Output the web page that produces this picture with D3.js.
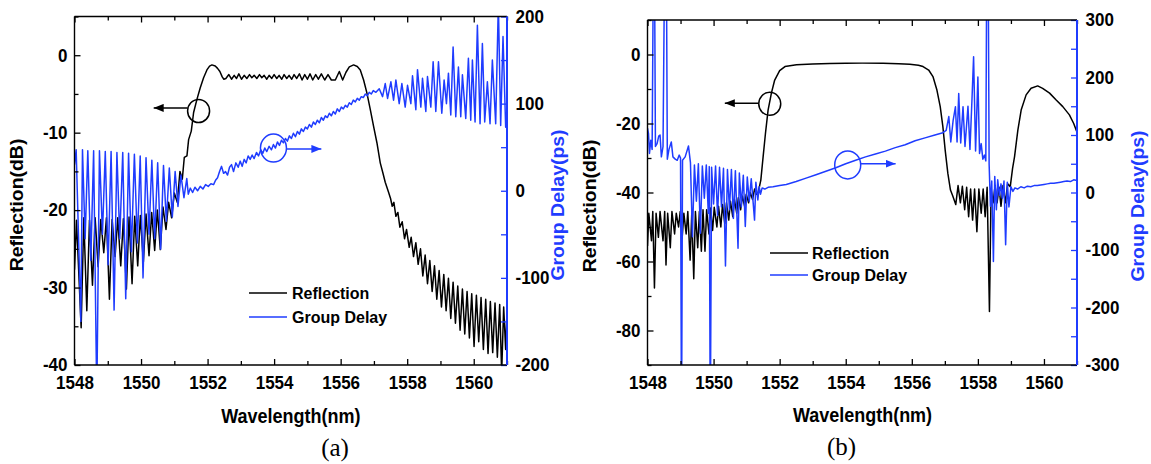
<!DOCTYPE html>
<html><head><meta charset="utf-8">
<script src="https://cdn.jsdelivr.net/npm/d3@7"></script>
<style>
body{margin:0;background:#fff}
svg text{font-family:"Liberation Sans",Arial,sans-serif;font-weight:bold}
</style></head><body>
<svg id="c" width="1151" height="464"></svg>
<script>
// ---------------- data ----------------
const wavelengthTicks = [1548,1550,1552,1554,1556,1558,1560];
const wavelengthMinor = [1549,1551,1553,1555,1557,1559,1561];
const reflTicksA = [0,-10,-20,-30,-40];
const reflMinorA = [5,-5,-15,-25,-35];
const delayTicksA = [200,100,0,-100,-200];
const delayMinorA = [150,50,-50,-150];
const reflTicksB = [0,-20,-40,-60,-80];
const reflMinorB = [10,-10,-30,-50,-70,-90];
const delayTicksB = [300,200,100,0,-100,-200,-300];
const delayMinorB = [250,150,50,-50,-150,-250];
const seriesNames = ["Reflection","Group Delay"];
const panelLabels = ["(a)","(b)"];

// panel (a) reflection [nm, dB]
const reflectionA = [
[1548.00,-27.7],[1548.06,-21.3],[1548.20,-35.2],[1548.28,-21.0],[1548.37,-33.0],[1548.45,-21.3],[1548.54,-29.7],
[1548.62,-21.0],[1548.71,-27.3],[1548.79,-21.2],[1548.88,-25.5],[1548.96,-21.0],[1549.05,-31.5],[1549.13,-21.2],
[1549.22,-26.0],[1549.30,-21.0],[1549.39,-27.2],[1549.47,-21.1],[1549.56,-30.2],[1549.64,-20.9],[1549.73,-29.5],
[1549.81,-20.8],[1549.90,-27.2],[1549.98,-20.7],[1550.07,-26.7],[1550.15,-20.5],[1550.24,-25.9],[1550.32,-20.3],
[1550.41,-25.2],[1550.49,-20.0],[1550.58,-25.1],[1550.66,-19.6],[1550.75,-22.5],[1550.83,-19.0],[1550.92,-21.0],
[1551.00,-17.8],[1551.09,-19.0],[1551.17,-15.0],[1551.24,-16.0],[1551.30,-13.2],[1551.38,-13.0],[1551.43,-10.9],
[1551.51,-9.8],[1551.58,-7.4],[1551.68,-5.7],[1551.78,-4.2],[1551.88,-2.9],[1551.98,-1.9],[1552.06,-1.4],
[1552.13,-1.25],[1552.23,-1.4],[1552.30,-1.7],[1552.37,-2.1],[1552.44,-2.8],[1552.49,-3.1],[1552.55,-3.0],
[1552.64,-2.5],[1552.72,-3.1],[1552.80,-2.6],[1552.87,-3.0],[1552.94,-2.4],[1553.02,-3.1],[1553.10,-2.6],
[1553.18,-3.0],[1553.26,-2.5],[1553.33,-2.9],[1553.40,-2.6],[1553.48,-3.0],[1553.56,-2.5],[1553.63,-2.9],
[1553.70,-2.6],[1553.78,-3.1],[1553.85,-2.6],[1553.93,-3.0],[1554.00,-2.5],[1554.08,-3.0],[1554.15,-2.6],
[1554.23,-3.1],[1554.30,-2.5],[1554.38,-3.0],[1554.45,-2.6],[1554.53,-3.1],[1554.60,-2.5],[1554.68,-3.0],
[1554.76,-2.4],[1554.84,-3.2],[1554.92,-2.5],[1555.00,-3.1],[1555.08,-2.4],[1555.16,-3.2],[1555.25,-2.5],
[1555.33,-3.1],[1555.42,-2.4],[1555.52,-3.2],[1555.62,-2.5],[1555.72,-3.2],[1555.84,-3.2],[1555.96,-2.1],
[1556.06,-3.2],[1556.16,-2.2],[1556.26,-1.5],[1556.39,-1.25],[1556.50,-1.45],[1556.59,-1.9],[1556.69,-3.2],
[1556.79,-4.9],[1556.89,-7.0],[1556.99,-9.2],[1557.09,-11.3],[1557.19,-13.9],[1557.27,-15.2],[1557.34,-16.4],
[1557.44,-17.7],[1557.50,-18.5],[1557.55,-19.5],[1557.60,-19.0],[1557.66,-20.8],[1557.72,-20.3],[1557.78,-22.2],
[1557.85,-21.5],[1557.92,-23.7],[1557.98,-22.5],[1558.06,-24.8],[1558.12,-23.5],[1558.19,-26.0],[1558.26,-24.2],
[1558.33,-27.0],[1558.40,-25.0],[1558.47,-28.5],[1558.54,-25.8],[1558.61,-29.5],[1558.68,-26.5],[1558.75,-30.5],
[1558.82,-27.2],[1558.89,-31.5],[1558.96,-27.8],[1559.03,-32.5],[1559.10,-28.3],[1559.17,-33.0],[1559.24,-28.8],
[1559.31,-34.0],[1559.38,-29.3],[1559.45,-34.6],[1559.52,-29.8],[1559.59,-35.5],[1559.66,-30.2],[1559.73,-36.0],
[1559.80,-30.5],[1559.87,-36.5],[1559.94,-30.8],[1560.01,-37.6],[1560.08,-31.0],[1560.15,-37.0],[1560.22,-31.3],
[1560.29,-38.0],[1560.36,-31.5],[1560.43,-38.5],[1560.50,-31.8],[1560.57,-38.4],[1560.64,-32.0],[1560.71,-39.0],
[1560.78,-32.2],[1560.84,-41.0],[1560.90,-32.5],[1560.96,-38.0],[1561.00,-33.0]
];

// panel (a) group delay [nm, ps]
const delayA = [
[1548.00,30],[1548.05,47],[1548.19,-150],[1548.24,47],[1548.32,-55],[1548.40,46],[1548.49,-80],[1548.575,46],
[1548.67,-240],[1548.75,46],[1548.84,-50],[1548.925,45],[1549.01,-85],[1549.10,45],[1549.19,-137],[1549.275,44],
[1549.36,-55],[1549.45,44],[1549.54,-124],[1549.625,43],[1549.71,-70],[1549.80,42],[1549.89,-60],[1549.975,40],
[1550.06,-100],[1550.15,38],[1550.24,-50],[1550.325,35],[1550.41,-55],[1550.50,32],[1550.59,-67],[1550.675,29],
[1550.76,-35],[1550.85,26],[1550.94,-30],[1551.025,22],[1551.11,-18],[1551.20,18],[1551.29,-8],[1551.375,14],
[1551.42,-4],[1551.48,3],[1551.55,-2],[1551.62,4],[1551.70,0],[1551.78,5],[1551.86,2],[1551.94,7],[1552.02,5],
[1552.10,8],[1552.18,7],[1552.24,12],[1552.30,15],[1552.36,22],[1552.42,28],[1552.48,20],[1552.54,22],[1552.60,18],
[1552.66,27],[1552.72,30],[1552.78,22],[1552.85,32],[1552.92,27],[1552.98,34],[1553.04,28],[1553.10,36],[1553.16,32],
[1553.22,40],[1553.28,36],[1553.34,41],[1553.40,37],[1553.47,44],[1553.53,40],[1553.60,47],[1553.66,43],[1553.72,49],
[1553.78,45],[1553.85,51],[1553.92,47],[1553.98,53],[1554.04,49],[1554.10,56],[1554.16,52],[1554.22,58],[1554.28,55],
[1554.34,60],[1554.40,57],[1554.46,63],[1554.52,60],[1554.58,66],[1554.64,62],[1554.70,68],[1554.76,65],[1554.82,71],
[1554.88,68],[1554.94,73],[1555.00,71],[1555.06,76],[1555.12,73],[1555.18,79],[1555.24,76],[1555.30,81],[1555.36,78],
[1555.42,84],[1555.48,81],[1555.54,86],[1555.60,84],[1555.66,89],[1555.72,86],[1555.78,91],[1555.84,88],[1555.90,94],
[1555.96,91],[1556.02,96],[1556.08,94],[1556.14,98],[1556.20,96],[1556.26,101],[1556.32,99],[1556.38,104],[1556.44,102],
[1556.50,106],[1556.56,104],[1556.62,108],[1556.68,107],[1556.74,111],[1556.80,109],[1556.86,113],[1556.92,111],
[1556.98,115],[1557.06,113],[1557.16,117],[1557.26,108],[1557.34,123],[1557.41,106],[1557.51,125],[1557.59,104],
[1557.66,127],[1557.76,100],[1557.84,123],[1557.94,96],[1558.01,121],[1558.11,100],[1558.16,132],[1558.26,93],
[1558.31,139],[1558.41,96],[1558.46,129],[1558.56,91],[1558.61,131],[1558.71,96],[1558.78,148],[1558.86,91],
[1558.94,148],[1559.04,89],[1559.11,127],[1559.18,100],[1559.24,135],[1559.31,87],[1559.38,165],[1559.46,85],
[1559.54,142],[1559.61,85],[1559.66,133],[1559.76,83],[1559.84,152],[1559.91,81],[1559.96,150],[1560.04,79],
[1560.11,190],[1560.19,77],[1560.26,169],[1560.33,79],[1560.41,125],[1560.49,77],[1560.56,150],[1560.66,77],
[1560.74,215],[1560.81,75],[1560.88,177],[1560.96,73],[1561.00,90]
];

// panel (b) reflection [nm, dB]
const reflectionB = [
[1548.00,-55.5],[1548.04,-46],[1548.12,-54],[1548.16,-45.5],[1548.21,-67.7],[1548.26,-46],[1548.33,-53],
[1548.38,-45.5],[1548.47,-54],[1548.52,-45.5],[1548.56,-61],[1548.61,-46],[1548.69,-56],[1548.74,-45.5],
[1548.82,-52],[1548.87,-46],[1548.94,-50],[1548.99,-45.5],[1549.05,-53],[1549.10,-46],[1549.17,-52],
[1549.22,-45.5],[1549.29,-59.6],[1549.34,-46],[1549.40,-65],[1549.45,-45.5],[1549.52,-56],[1549.57,-45.5],
[1549.63,-57],[1549.68,-45],[1549.74,-57],[1549.79,-45],[1549.86,-52],[1549.91,-44.5],[1549.97,-51],
[1550.02,-44.3],[1550.10,-50],[1550.15,-44],[1550.22,-50],[1550.27,-43.5],[1550.34,-49],[1550.39,-43],
[1550.46,-48],[1550.51,-42.5],[1550.58,-47],[1550.63,-42],[1550.70,-46],[1550.75,-41.5],[1550.82,-45],
[1550.87,-41],[1550.94,-44],[1550.99,-40.5],[1551.06,-43],[1551.11,-40],[1551.18,-42],[1551.24,-39],
[1551.30,-40.5],[1551.35,-40],[1551.43,-36.4],[1551.50,-29.6],[1551.57,-22.9],[1551.65,-16.1],[1551.75,-11.2],
[1551.85,-7.4],[1552.00,-4.7],[1552.16,-3.5],[1552.51,-3.0],[1553.00,-2.75],[1553.52,-2.6],[1554.00,-2.55],
[1554.50,-2.5],[1555.13,-2.55],[1555.60,-2.65],[1555.94,-2.85],[1556.20,-3.1],[1556.34,-3.5],[1556.51,-4.5],
[1556.64,-6.4],[1556.76,-10.3],[1556.86,-15.1],[1556.94,-20.9],[1557.01,-27.7],[1557.09,-34.4],[1557.17,-39.3],
[1557.24,-41],[1557.33,-43.5],[1557.40,-38],[1557.47,-43],[1557.53,-38.2],[1557.60,-45],[1557.66,-38.5],
[1557.72,-47],[1557.78,-39],[1557.84,-48],[1557.90,-39],[1557.97,-51.4],[1558.03,-39],[1558.10,-46],
[1558.16,-39],[1558.22,-47],[1558.28,-38.5],[1558.35,-74.5],[1558.40,-39],[1558.46,-43],[1558.52,-38],
[1558.58,-43],[1558.64,-38.5],[1558.70,-44],[1558.76,-38],[1558.83,-43],[1558.90,-37.5],[1558.98,-38.3],
[1559.05,-33],[1559.11,-29.6],[1559.21,-21.9],[1559.31,-16.1],[1559.46,-11.7],[1559.61,-9.8],[1559.81,-9.1],
[1559.96,-9.8],[1560.17,-11.2],[1560.37,-13.2],[1560.57,-15.1],[1560.77,-17.5],[1560.90,-20],[1561.00,-22.5]
];

// panel (b) group delay [nm, ps]
const delayB = [
[1548.00,112],[1548.03,103],[1548.06,68],[1548.10,91],[1548.14,75],[1548.18,420],[1548.21,420],[1548.24,80],
[1548.29,85],[1548.34,98],[1548.38,100],[1548.42,62],[1548.47,80],[1548.52,420],[1548.57,420],[1548.60,58],
[1548.65,75],[1548.72,88],[1548.77,62],[1548.84,58],[1548.90,56],[1548.96,65],[1549.00,60],[1549.03,-420],
[1549.06,56],[1549.14,62],[1549.24,81],[1549.30,52],[1549.36,-77],[1549.42,48],[1549.48,-15],[1549.54,50],
[1549.60,-71],[1549.66,46],[1549.72,-10],[1549.78,48],[1549.84,-36],[1549.87,45],[1549.90,-420],[1549.94,44],
[1550.00,-20],[1550.06,46],[1550.12,-40],[1550.18,44],[1550.24,-25],[1550.30,42],[1550.36,-128],[1550.42,40],
[1550.48,-30],[1550.54,40],[1550.60,-45],[1550.66,38],[1550.74,-97],[1550.78,34],[1550.84,-25],[1550.90,30],
[1550.96,-59],[1551.02,27],[1551.08,-15],[1551.14,24],[1551.24,-48],[1551.28,18],[1551.34,-13],[1551.38,10],
[1551.42,-3],[1551.47,8],[1551.55,6],[1551.65,9],[1551.80,10],[1552.00,12],[1552.20,14],[1552.50,19],[1552.80,25],
[1553.10,31],[1553.40,37],[1553.70,43],[1554.00,50],[1554.30,56],[1554.60,62],[1554.90,67],[1555.20,72],
[1555.50,78],[1555.80,83],[1556.10,90],[1556.40,95],[1556.70,100],[1556.94,104],[1557.04,108],[1557.12,132],
[1557.18,88],[1557.25,125],[1557.32,149],[1557.37,88],[1557.42,172],[1557.48,86],[1557.55,149],[1557.61,80],
[1557.70,150],[1557.76,75],[1557.82,160],[1557.87,236],[1557.93,72],[1558.00,201],[1558.05,68],[1558.10,85],
[1558.15,58],[1558.20,65],[1558.24,55],[1558.27,420],[1558.31,420],[1558.34,50],[1558.38,-24],[1558.42,20],
[1558.47,-120],[1558.51,28],[1558.56,-30],[1558.60,22],[1558.65,-5],[1558.70,15],[1558.74,-10],[1558.79,20],
[1558.84,-91],[1558.89,18],[1558.94,-25],[1559.00,10],[1559.06,2],[1559.12,8],[1559.20,6],[1559.30,10],
[1559.40,8],[1559.50,11],[1559.60,10],[1559.70,12],[1559.80,12],[1559.90,13],[1560.00,14],[1560.10,15],
[1560.20,16],[1560.30,16],[1560.40,17],[1560.50,18],[1560.60,19],[1560.70,20],[1560.80,19],[1560.90,22],[1561.00,21]
];

// ---------------- drawing ----------------
const BLUE = "#1f3cff";
const svg = d3.select("#c");

const panels = [
 {left:74.5, right:507, top:16.5, bottom:365, reflDomain:[-40,5], delayDomain:[-200,200],
  reflTicks:reflTicksA, reflMinor:reflMinorA, delayTicks:delayTicksA, delayMinor:delayMinorA,
  refl:reflectionA, delay:delayA, label:panelLabels[0],
  leftTitleX:17, rightTitleX:557.5, titleY:205, xTitleX:290.8, xTitleY:416, labelX:335, labelY:447,
  legend:{x1:249,x2:287,tx:292,y1:293,y2:317},
  blackMark:{cx:1551.73, cy:-7.2, ay:-6.8, tip:1550.38}, blueMark:{cx:1553.98, cy:49, ay:48, tip:1555.42}},
 {left:647.5, right:1077, top:20, bottom:365, reflDomain:[-90,10], delayDomain:[-300,300],
  reflTicks:reflTicksB, reflMinor:reflMinorB, delayTicks:delayTicksB, delayMinor:delayMinorB,
  refl:reflectionB, delay:delayB, label:panelLabels[1],
  leftTitleX:590, rightTitleX:1137.5, titleY:206, xTitleX:862.5, xTitleY:415, labelX:841.5, labelY:446,
  legend:{x1:770,x2:808,tx:812,y1:253,y2:275},
  blackMark:{cx:1551.70, cy:-14.3, ay:-14.1, tip:1550.34}, blueMark:{cx:1554.06, cy:48, ay:50, tip:1555.51}}
];

const defs = svg.append("defs");
function marker(id, color){
  defs.append("marker").attr("id",id).attr("viewBox","0 0 10 8").attr("refX",10).attr("refY",4)
    .attr("markerWidth",10).attr("markerHeight",8).attr("markerUnits","userSpaceOnUse").attr("orient","auto")
    .append("path").attr("d","M0,0 L10,4 L0,8 Z").attr("fill",color);
}
marker("arrK","#000"); marker("arrB",BLUE);

const fmt = d => String(d);
function styleAxis(g, color, fs){
  g.attr("font-family",null).attr("font-size",null);
  g.select(".domain").remove();
  g.selectAll(".tick line").attr("stroke",color).attr("stroke-width",1.3);
  g.selectAll(".tick text").attr("fill","#000").style("font-size",fs+"px").attr("transform","scale(1,1.08)");
}

panels.forEach((p,i) => {
  const g = svg.append("g");
  const x = d3.scaleLinear().domain([1548,1561]).range([p.left,p.right]);
  const yL = d3.scaleLinear().domain(p.reflDomain).range([p.bottom,p.top]);
  const yR = d3.scaleLinear().domain(p.delayDomain).range([p.bottom,p.top]);
  const clipId = "clip"+i;
  defs.append("clipPath").attr("id",clipId).append("rect")
    .attr("x",p.left).attr("y",p.top).attr("width",p.right-p.left).attr("height",p.bottom-p.top);

  // data lines
  const lineL = d3.line().x(d=>x(d[0])).y(d=>yL(d[1]));
  const lineR = d3.line().x(d=>x(d[0])).y(d=>yR(d[1]));
  const plot = g.append("g").attr("clip-path",`url(#${clipId})`);
  plot.append("path").datum(p.refl).attr("d",lineL).attr("fill","none").attr("stroke","#000")
    .attr("stroke-width",1.5).attr("stroke-linejoin","round");
  plot.append("path").datum(p.delay).attr("d",lineR).attr("fill","none").attr("stroke",BLUE)
    .attr("stroke-width",1.5).attr("stroke-linejoin","round");

  // axes
  const ax = (sel, axis, color, fs) => { const a = g.append("g"); sel(a); a.call(axis); styleAxis(a,color,fs); return a; };
  ax(a=>a.attr("transform",`translate(0,${p.bottom})`),
     d3.axisBottom(x).tickValues(wavelengthTicks).tickSizeInner(-6).tickSizeOuter(0).tickPadding(10).tickFormat(fmt),"#000",17);
  ax(a=>a.attr("transform",`translate(0,${p.bottom})`),
     d3.axisBottom(x).tickValues(wavelengthMinor).tickSizeInner(-4).tickSizeOuter(0).tickFormat(""),"#000",17);
  ax(a=>a.attr("transform",`translate(0,${p.top})`),
     d3.axisTop(x).tickValues(wavelengthTicks).tickSizeInner(-6).tickSizeOuter(0).tickFormat(""),"#000",17);
  ax(a=>a.attr("transform",`translate(0,${p.top})`),
     d3.axisTop(x).tickValues(wavelengthMinor).tickSizeInner(-4).tickSizeOuter(0).tickFormat(""),"#000",17);
  ax(a=>a.attr("transform",`translate(${p.left},0)`),
     d3.axisLeft(yL).tickValues(p.reflTicks).tickSizeInner(-6).tickSizeOuter(0).tickPadding(7).tickFormat(fmt),"#000",17);
  ax(a=>a.attr("transform",`translate(${p.left},0)`),
     d3.axisLeft(yL).tickValues(p.reflMinor).tickSizeInner(-4).tickSizeOuter(0).tickFormat(""),"#000",17);
  ax(a=>a.attr("transform",`translate(${p.right},0)`),
     d3.axisRight(yR).tickValues(p.delayTicks).tickSizeInner(-6).tickSizeOuter(0).tickPadding(8.5).tickFormat(fmt),BLUE,17);
  ax(a=>a.attr("transform",`translate(${p.right},0)`),
     d3.axisRight(yR).tickValues(p.delayMinor).tickSizeInner(-6).tickSizeOuter(0).tickFormat(""),BLUE,17);

  // frame
  g.append("line").attr("x1",p.left).attr("x2",p.right).attr("y1",p.top).attr("y2",p.top).attr("stroke","#000").attr("stroke-width",1.4);
  g.append("line").attr("x1",p.left).attr("x2",p.right).attr("y1",p.bottom).attr("y2",p.bottom).attr("stroke","#000").attr("stroke-width",1.4);
  g.append("line").attr("x1",p.left).attr("x2",p.left).attr("y1",p.top).attr("y2",p.bottom).attr("stroke","#000").attr("stroke-width",1.4);
  g.append("line").attr("x1",p.right).attr("x2",p.right).attr("y1",p.top).attr("y2",p.bottom).attr("stroke",BLUE).attr("stroke-width",2);

  // titles
  g.append("text").attr("transform",`translate(${p.leftTitleX},${p.titleY}) scale(1,1.08) rotate(-90)`)
    .attr("text-anchor","middle").attr("dy","0.35em").style("font-size","18px").attr("fill","#000").text("Reflection(dB)");
  g.append("text").attr("transform",`translate(${p.rightTitleX},${p.titleY}) scale(1,1.08) rotate(-90)`)
    .attr("text-anchor","middle").attr("dy","0.35em").style("font-size","18px").attr("fill",BLUE).text("Group Delay(ps)");
  g.append("text").attr("transform",`translate(${p.xTitleX},${p.xTitleY}) scale(1,1.08)`)
    .attr("text-anchor","middle").attr("dy","0.35em").style("font-size","18px").attr("fill","#000").text("Wavelength(nm)");
  g.append("text").attr("transform",`translate(${p.labelX},${p.labelY})`)
    .attr("text-anchor","middle").attr("dy","0.35em")
    .style("font-family","'Liberation Serif','Times New Roman',serif").style("font-weight","normal").style("font-size","25px")
    .attr("fill","#000").text(p.label);

  // legend
  const L = p.legend;
  [[L.y1,"#000",seriesNames[0]],[L.y2,BLUE,seriesNames[1]]].forEach(([yy,c,t])=>{
    g.append("line").attr("x1",L.x1).attr("x2",L.x2).attr("y1",yy).attr("y2",yy).attr("stroke",c).attr("stroke-width",1.6);
    g.append("text").attr("x",L.tx).attr("y",yy).attr("dy","0.35em").style("font-size","16px").attr("fill","#000").text(t);
  });

  // annotation circles + arrows
  const bm = p.blackMark;
  g.append("ellipse").attr("cx",x(bm.cx)).attr("cy",yL(bm.cy)).attr("rx",11).attr("ry",11.5)
    .attr("fill","none").attr("stroke","#000").attr("stroke-width",1.5);
  g.append("line").attr("x1",x(bm.cx)-11).attr("y1",yL(bm.ay)).attr("x2",x(bm.tip)).attr("y2",yL(bm.ay))
    .attr("stroke","#000").attr("stroke-width",1.5).attr("marker-end","url(#arrK)");
  const um = p.blueMark;
  g.append("ellipse").attr("cx",x(um.cx)).attr("cy",yR(um.cy)).attr("rx",13).attr("ry",14)
    .attr("fill","none").attr("stroke",BLUE).attr("stroke-width",1.5);
  g.append("line").attr("x1",x(um.cx)+13).attr("y1",yR(um.ay)).attr("x2",x(um.tip)).attr("y2",yR(um.ay))
    .attr("stroke",BLUE).attr("stroke-width",1.5).attr("marker-end","url(#arrB)");
});
</script>
</body></html>
